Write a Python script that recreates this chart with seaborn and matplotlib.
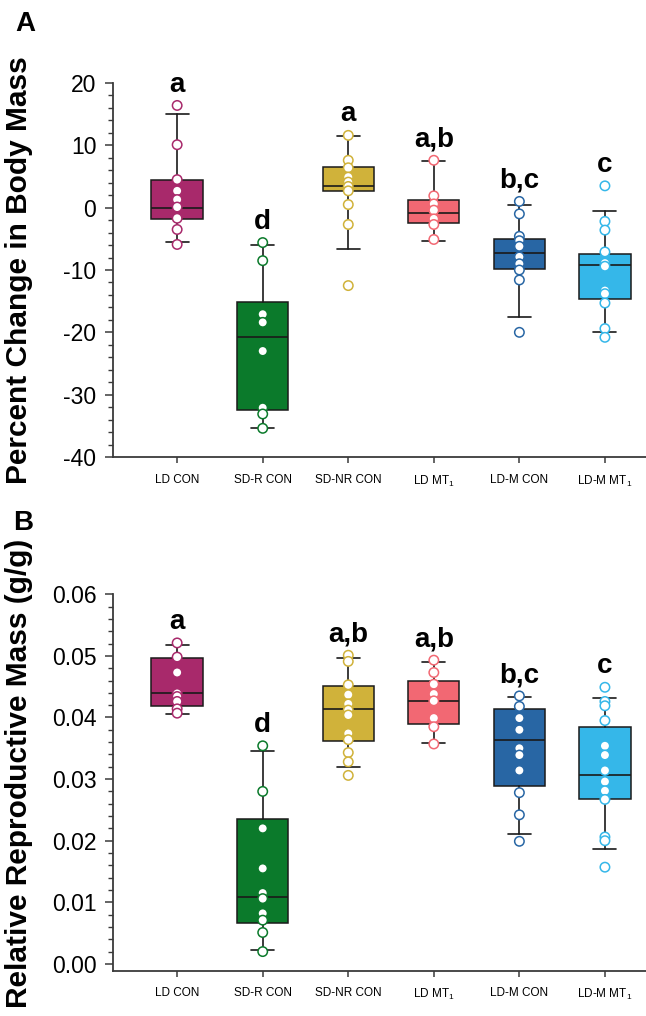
"""Box plots of body mass change and relative reproductive mass for six groups."""

import matplotlib
matplotlib.use("Agg")
import matplotlib.pyplot as plt
from matplotlib.ticker import MultipleLocator, FormatStrFormatter
import pandas as pd
import seaborn as sns

groups = ["LD CON", "SD-R CON", "SD-NR CON", "LD MT$_1$", "LD-M CON", "LD-M MT$_1$"]
colors = ["#A8296B", "#0B7A2B", "#D0B23A", "#F26873", "#2866A4", "#35B7E9"]

# Panel A - percent change in body mass
mass_points = [
    [16.4, 10.1, 4.5, 2.7, 1.3, 0.1, -1.7, -3.5, -5.9],
    [-5.6, -8.5, -17.1, -18.4, -23.0, -32.1, -33.1, -35.4],
    [11.6, 7.6, 6.4, 4.9, 4.1, 3.4, 2.7, 0.5, -2.7, -12.5],
    [7.6, 1.9, 0.6, -0.4, -1.8, -2.7, -5.1],
    [1.0, -1.0, -4.6, -5.3, -6.2, -7.9, -9.0, -10.0, -11.6, -20.0],
    [3.5, -2.2, -3.6, -7.1, -8.9, -9.4, -13.3, -13.8, -15.3, -19.4, -20.8],
]
mass_q1 = [-1.8, -32.4, 2.6, -2.5, -9.8, -14.6]
mass_med = [0.0, -20.7, 3.4, -0.8, -7.2, -9.2]
mass_q3 = [4.5, -15.1, 6.6, 1.3, -5.0, -7.4]
mass_p10 = [-5.5, -35.3, -6.7, -5.3, -17.6, -20.0]
mass_p90 = [15.1, -5.95, 11.5, 7.5, 0.4, -0.5]
mass_letters = ["a", "d", "a", "a,b", "b,c", "c"]

# Panel B - relative reproductive mass (g/g)
repro_points = [
    [0.0521, 0.0498, 0.0473, 0.0439, 0.0434, 0.0426, 0.0414, 0.0407],
    [0.0354, 0.0280, 0.0220, 0.0155, 0.0115, 0.0106, 0.0082, 0.0071, 0.0051, 0.0020],
    [0.0501, 0.0491, 0.0453, 0.0437, 0.0422, 0.0412, 0.0404, 0.0374, 0.0364,
     0.0343, 0.0328, 0.0306],
    [0.0493, 0.0473, 0.0454, 0.0438, 0.0427, 0.0399, 0.0385, 0.0357],
    [0.0435, 0.0418, 0.0399, 0.0380, 0.0350, 0.0339, 0.0314, 0.0278, 0.0242, 0.0199],
    [0.0449, 0.0426, 0.0419, 0.0395, 0.0354, 0.0339, 0.0314, 0.0296, 0.0281,
     0.0267, 0.0206, 0.0200, 0.0157],
]
repro_q1 = [0.0418, 0.0066, 0.0362, 0.0390, 0.0288, 0.0268]
repro_med = [0.0440, 0.0109, 0.0413, 0.0427, 0.0364, 0.0306]
repro_q3 = [0.0496, 0.0235, 0.0451, 0.0459, 0.0413, 0.0384]
repro_p10 = [0.0405, 0.0023, 0.0319, 0.0359, 0.0211, 0.0187]
repro_p90 = [0.0517, 0.0346, 0.0497, 0.0490, 0.0433, 0.0432]
repro_letters = ["a", "d", "a,b", "a,b", "b,c", "c"]

sns.set_style("white")
plt.rcParams["font.family"] = ["Liberation Sans", "DejaVu Sans"]
plt.rcParams["mathtext.fontset"] = "custom"
plt.rcParams["mathtext.rm"] = "Liberation Sans"
plt.rcParams["mathtext.default"] = "regular"
plt.rcParams["axes.unicode_minus"] = False
for key in ["text.color", "axes.labelcolor", "xtick.labelcolor", "ytick.labelcolor"]:
    plt.rcParams[key] = "black"

AXIS_COLOR = "#3a3a3a"


def draw_panel(ax, points, q1, med, q3, p10, p90, letters, ylabel):
    # 1. Boxes with whiskers at the 10th/90th percentiles
    stats = [dict(q1=a, med=m, q3=b, whislo=lo, whishi=hi, fliers=[])
             for a, m, b, lo, hi in zip(q1, med, q3, p10, p90)]
    bp = ax.bxp(stats, positions=range(len(groups)), widths=0.6,
                patch_artist=True, showfliers=False, capwidths=0.27,
                boxprops=dict(linewidth=1.1, edgecolor="#1a1a1a"),
                medianprops=dict(color="#1a1a1a", linewidth=1.2),
                whiskerprops=dict(color="#1a1a1a", linewidth=1.2),
                capprops=dict(color="#1a1a1a", linewidth=1.2))
    for box, c in zip(bp["boxes"], colors):
        box.set_facecolor(c)

    # 2. Individual points: white fill, coloured outline
    df = pd.DataFrame([(g, v) for g, vals in zip(groups, points) for v in vals],
                      columns=["group", "value"])
    sns.stripplot(data=df, x="group", y="value", hue="group", order=groups,
                  hue_order=groups, palette=colors, jitter=False, size=6.8,
                  linewidth=0, legend=False, ax=ax, zorder=4)
    for coll in ax.collections:
        fc = coll.get_facecolor()
        if len(fc):
            coll.set_edgecolor(fc)
            coll.set_facecolor("white")
            coll.set_linewidth(1.1)

    # 3. Significance letters above each group
    for i, (vals, hi, lab) in enumerate(zip(points, p90, letters)):
        top = max(max(vals), hi)
        ax.annotate(lab, (i, top), xytext=(0, 10), textcoords="offset points",
                    ha="center", va="baseline", fontsize=20, fontweight="bold",
                    color="black")

    # 4. Axis styling
    ax.set_xlim(-0.75, 5.48)
    ax.set_xticks(range(len(groups)))
    ax.set_xticklabels(groups, fontsize=8.5)
    ax.set_xlabel("")
    ax.set_ylabel(ylabel, fontsize=21.5, fontweight="bold", color="black")
    for side in ["top", "right"]:
        ax.spines[side].set_visible(False)
    for side in ["left", "bottom"]:
        ax.spines[side].set_color(AXIS_COLOR)
        ax.spines[side].set_linewidth(1.3)
    ax.tick_params(axis="y", which="major", direction="out", length=6,
                   width=1.1, color=AXIS_COLOR, labelsize=16.5, pad=6, left=True,
                   labelcolor="black")
    ax.tick_params(axis="y", which="minor", direction="out", length=3.5,
                   width=1.0, color=AXIS_COLOR, left=True)
    ax.tick_params(axis="x", which="major", direction="out", length=4,
                   width=1.1, color=AXIS_COLOR, pad=8, bottom=True,
                   labelcolor="black")
    ax.tick_params(axis="x", which="minor", bottom=False)


fig = plt.figure(figsize=(6.46, 10.16), dpi=100)
ax_a = fig.add_axes([0.1749, 0.5502, 0.8251, 0.3681])
ax_b = fig.add_axes([0.1749, 0.0446, 0.8251, 0.3705])

draw_panel(ax_a, mass_points, mass_q1, mass_med, mass_q3, mass_p10, mass_p90,
           mass_letters, "Percent Change in Body Mass")
ax_a.set_ylim(-40, 20)
ax_a.yaxis.set_major_locator(MultipleLocator(10))
ax_a.yaxis.set_minor_locator(MultipleLocator(2))
ax_a.yaxis.set_label_coords(-0.15, 0.5)

draw_panel(ax_b, repro_points, repro_q1, repro_med, repro_q3, repro_p10, repro_p90,
           repro_letters, "Relative Reproductive Mass (g/g)")
ax_b.set_ylim(-0.0011, 0.06)
ax_b.yaxis.set_major_locator(MultipleLocator(0.01))
ax_b.yaxis.set_minor_locator(MultipleLocator(0.002))
ax_b.yaxis.set_major_formatter(FormatStrFormatter("%.2f"))
ax_b.yaxis.set_label_coords(-0.15, 0.525)

fig.text(15 / 646, 1 - 11 / 1016, "A", ha="left", va="top", fontsize=20,
         fontweight="bold", color="black")
fig.text(13 / 646, 1 - 510 / 1016, "B", ha="left", va="top", fontsize=20,
         fontweight="bold", color="black")

fig.savefig("out.png", dpi=100)
plt.close(fig)
